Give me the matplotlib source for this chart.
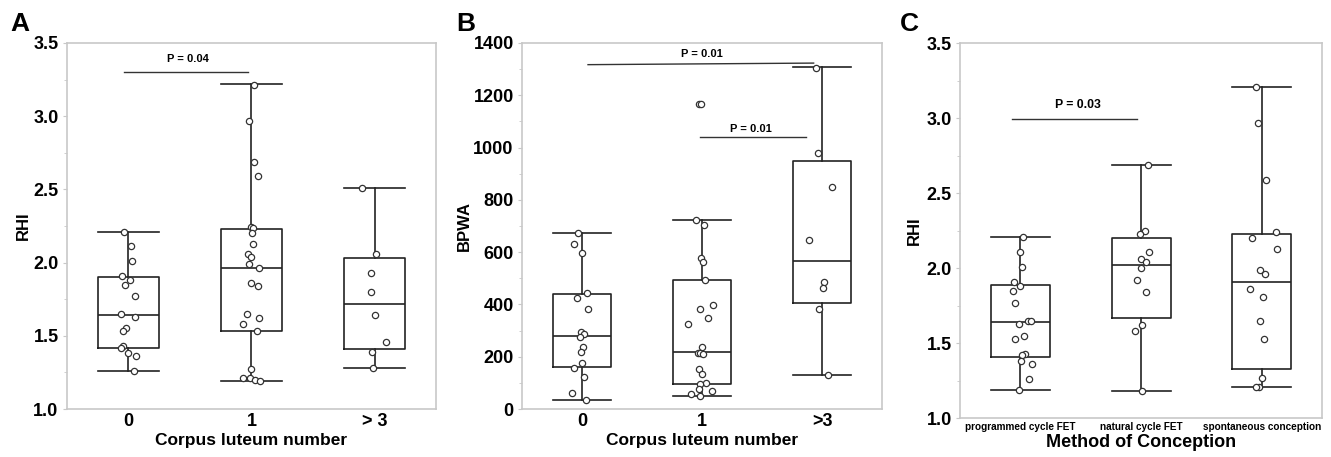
import matplotlib
matplotlib.use("Agg")
import matplotlib.pyplot as plt
from matplotlib.ticker import MultipleLocator

plt.rcParams['font.family'] = ['Liberation Sans', 'DejaVu Sans']

# ---------------- Data ----------------
# Panel A: RHI by corpus luteum number
a_cats = ["0", "1", "> 3"]
a_vals = [
    [2.21, 2.11, 2.01, 1.91, 1.88, 1.85, 1.77, 1.65, 1.63, 1.55, 1.53, 1.43, 1.42, 1.38, 1.36, 1.26],
    [3.21, 2.97, 2.69, 2.59, 2.24, 2.235, 2.20, 2.13, 2.06, 2.04, 1.99, 1.96, 1.86, 1.84, 1.65, 1.62,
     1.58, 1.53, 1.27, 1.21, 1.21, 1.20, 1.19],
    [2.51, 2.06, 1.93, 1.80, 1.64, 1.46, 1.39, 1.28],
]
a_jit = [
    [-0.035, 0.022, 0.027, -0.052, 0.014, -0.030, 0.051, -0.060, 0.051, -0.024, -0.046, -0.041, -0.062, 0.0, 0.062, 0.043],
    [0.022, -0.024, 0.024, 0.049, -0.008, 0.014, 0.008, 0.014, -0.027, -0.008, -0.024, 0.060, -0.008, 0.051, -0.035, 0.057,
     -0.065, 0.041, 0.0, -0.065, -0.014, 0.027, 0.070],
    [-0.098, 0.008, -0.027, -0.027, 0.005, 0.095, -0.019, -0.016],
]
a_q1 = [1.42, 1.53, 1.41]
a_med = [1.64, 1.96, 1.72]
a_q3 = [1.90, 2.23, 2.03]
a_lo = [1.26, 1.19, 1.28]
a_hi = [2.21, 3.22, 2.51]

# Panel B: BPWA by corpus luteum number
b_cats = ["0", "1", ">3"]
b_vals = [
    [672, 633, 596, 443, 426, 384, 293, 287, 277, 236, 218, 175, 158, 124, 63, 36],
    [1165, 1165, 721, 702, 576, 564, 493, 396, 382, 348, 327, 236, 216, 213, 209, 152, 135, 101,
     94, 78, 70, 56, 51],
    [1303, 979, 849, 647, 487, 461, 384, 129],
]
b_jit = [
    [-0.030, -0.064, 0.0, 0.044, -0.042, 0.053, -0.008, 0.014, -0.017, 0.006, -0.011, -0.003, -0.064, 0.019, -0.083, 0.030],
    [-0.028, -0.008, -0.050, 0.019, -0.011, 0.011, 0.028, 0.089, -0.014, 0.053, -0.116, 0.003, -0.030, -0.019, 0.011,
     -0.025, 0.0, 0.036, -0.019, -0.028, 0.080, -0.089, -0.019],
    [-0.047, -0.033, 0.080, -0.105, 0.019, 0.011, -0.028, 0.047],
]
b_q1 = [162, 94, 405]
b_med = [281, 218, 567]
b_q3 = [439, 493, 947]
b_lo = [36, 51, 129]
b_hi = [672, 721, 1307]

# Panel C: RHI by method of conception
c_cats = ["programmed cycle FET", "natural cycle FET", "spontaneous conception"]
c_vals = [
    [2.21, 2.11, 2.01, 1.91, 1.88, 1.85, 1.77, 1.65, 1.65, 1.63, 1.55, 1.53, 1.43, 1.42, 1.38, 1.36, 1.26, 1.19],
    [2.69, 2.25, 2.23, 2.11, 2.06, 2.04, 2.00, 1.92, 1.84, 1.62, 1.58, 1.18],
    [3.21, 2.97, 2.59, 2.24, 2.20, 2.13, 1.99, 1.96, 1.86, 1.81, 1.65, 1.53, 1.27, 1.21, 1.21],
]
c_jit = [
    [0.019, 0.0, 0.011, -0.052, -0.003, -0.058, -0.041, 0.063, 0.085, -0.011, 0.030, -0.041, 0.039, 0.014, 0.003, 0.096, 0.072, -0.011],
    [0.055, 0.030, -0.008, 0.069, -0.003, 0.039, -0.003, -0.030, 0.039, 0.011, -0.047, 0.008],
    [-0.044, -0.028, 0.033, 0.121, -0.080, 0.124, -0.017, 0.025, -0.099, 0.008, -0.014, 0.022, 0.003, -0.022, -0.044],
]
c_q1 = [1.41, 1.67, 1.33]
c_med = [1.64, 2.02, 1.91]
c_q3 = [1.89, 2.20, 2.23]
c_lo = [1.19, 1.18, 1.21]
c_hi = [2.21, 2.69, 3.21]

# ---------------- Figure ----------------
fig = plt.figure(figsize=(13.31, 4.57), dpi=100)
axA = fig.add_axes([0.0503, 0.105, 0.2773, 0.801])
axB = fig.add_axes([0.3922, 0.105, 0.2705, 0.801])
axC = fig.add_axes([0.7213, 0.0853, 0.2720, 0.8206])

FRAME = "#c8c8c8"


def draw_panel(ax, cats, vals, jit, q1, med, q3, lo, hi, ylim, major, minor, xfs, fmt):
    stats = []
    for i in range(len(cats)):
        stats.append(dict(med=med[i], q1=q1[i], q3=q3[i], whislo=lo[i], whishi=hi[i], fliers=[]))
    lp = dict(color="#222222", linewidth=1.2)
    ax.bxp(stats, positions=range(len(cats)), widths=0.49, showfliers=False,
           boxprops=lp, medianprops=lp, whiskerprops=lp, capprops=lp,
           capwidths=0.49, manage_ticks=False, zorder=2)
    for i, (v, j) in enumerate(zip(vals, jit)):
        ax.plot([i + d for d in j], v, linestyle="none", marker="o", markersize=4.5,
                markerfacecolor="white", markeredgecolor="#333333", markeredgewidth=0.9, zorder=3)
    ax.set_xlim(-0.5, 2.5)
    ax.yaxis.set_major_locator(MultipleLocator(major))
    ax.yaxis.set_minor_locator(MultipleLocator(minor))
    ax.set_ylim(*ylim)
    ticks = [t for t in ax.get_yticks() if ylim[0] - 1e-9 <= t <= ylim[1] + 1e-9]
    ax.set_yticks(ticks)
    ax.set_yticklabels([fmt % t for t in ticks], fontsize=13, fontweight="bold")
    ax.set_ylim(*ylim)
    ax.set_xticks(range(len(cats)))
    ax.set_xticklabels(cats, fontsize=xfs, fontweight="bold")
    ax.tick_params(axis="both", which="major", length=3, color=FRAME, pad=3)
    ax.tick_params(axis="y", which="minor", length=2, color=FRAME)
    ax.tick_params(axis="x", which="major", length=0)
    for s in ax.spines.values():
        s.set_color(FRAME)
        s.set_linewidth(1.2)


draw_panel(axA, a_cats, a_vals, a_jit, a_q1, a_med, a_q3, a_lo, a_hi, (1.0, 3.5), 0.5, 0.25, 13, "%.1f")
draw_panel(axB, b_cats, b_vals, b_jit, b_q1, b_med, b_q3, b_lo, b_hi, (0, 1400), 200, 100, 13, "%d")
draw_panel(axC, c_cats, c_vals, c_jit, c_q1, c_med, c_q3, c_lo, c_hi, (1.0, 3.5), 0.5, 0.25, 7.2, "%.1f")

axA.set_xlabel("Corpus luteum number", fontsize=12.5, fontweight="bold", labelpad=2)
axB.set_xlabel("Corpus luteum number", fontsize=12.5, fontweight="bold", labelpad=2)
axC.set_xlabel("Method of Conception", fontsize=13, fontweight="bold", labelpad=1)
axA.set_ylabel("RHI", fontsize=12, fontweight="bold", labelpad=2)
axB.set_ylabel("BPWA", fontsize=12, fontweight="bold", labelpad=1)
axC.set_ylabel("RHI", fontsize=12, fontweight="bold", labelpad=3)

# significance brackets
bk = dict(color="#333333", linewidth=1.0)
axA.plot([-0.04, 0.97], [3.30, 3.30], **bk)
axA.text(0.48, 3.39, "P = 0.04", ha="center", va="center", fontsize=8, fontweight="bold")

axB.plot([0.05, 1.93], [1317, 1323], **bk)
axB.text(1.0, 1359, "P = 0.01", ha="center", va="center", fontsize=8, fontweight="bold")
axB.plot([0.98, 1.87], [1040, 1040], **bk)
axB.text(1.41, 1071, "P = 0.01", ha="center", va="center", fontsize=8, fontweight="bold")

axC.plot([-0.07, 0.97], [2.995, 2.995], **bk)
axC.text(0.48, 3.09, "P = 0.03", ha="center", va="center", fontsize=8.8, fontweight="bold")

# panel letters
fig.text(0.008, 0.948, "A", fontsize=19, fontweight="bold", va="center")
fig.text(0.343, 0.948, "B", fontsize=19, fontweight="bold", va="center")
fig.text(0.676, 0.948, "C", fontsize=19, fontweight="bold", va="center")

fig.savefig("out.png", dpi=100)
